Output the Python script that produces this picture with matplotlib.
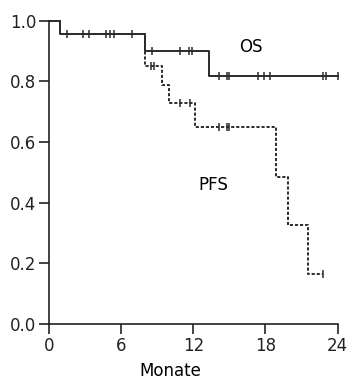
import matplotlib
matplotlib.use("Agg")
import matplotlib.pyplot as plt

# OS step curve (time in months, survival)
os_times = [0, 0.9, 8.0, 13.3, 24.0]
os_surv = [1.0, 0.955, 0.90, 0.818, 0.818]
os_cens_t = [1.5, 2.8, 3.3, 4.7, 5.1, 5.4, 6.9, 8.6, 10.9, 11.6, 11.9, 14.1, 14.8, 15.0, 17.4, 17.9, 18.4, 22.8, 23.0, 24.0]

# PFS step curve
pfs_times = [0, 0.9, 8.0, 9.4, 9.95, 12.1, 18.9, 19.9, 21.5, 22.75]
pfs_surv = [1.0, 0.955, 0.852, 0.788, 0.728, 0.65, 0.486, 0.326, 0.165, 0.165]
pfs_cens_t = [8.5, 8.7, 10.9, 11.7, 14.1, 14.8, 15.0, 22.75]

xticks = [0, 6, 12, 18, 24]
yticks = [0.0, 0.2, 0.4, 0.6, 0.8, 1.0]


def surv_at(times, surv, t):
    v = surv[0]
    for ti, si in zip(times, surv):
        if ti <= t:
            v = si
    return v


fig = plt.figure(figsize=(3.59, 3.79), dpi=100)
ax = fig.add_axes([0.1365, 0.145, 0.804, 0.800])

col = "#2b2b2b"
ax.step(os_times, os_surv, where="post", color=col, lw=1.4, clip_on=False)
ax.step(pfs_times, pfs_surv, where="post", color=col, lw=1.4, ls=(0, (1.6, 1.0)), clip_on=False)

ax.plot(os_cens_t, [surv_at(os_times, os_surv, t) for t in os_cens_t], ls="none",
        marker="|", ms=5.5, mew=1.1, color=col, clip_on=False)
ax.plot(pfs_cens_t, [surv_at(pfs_times, pfs_surv, t) for t in pfs_cens_t], ls="none",
        marker="|", ms=5.5, mew=1.1, color=col, clip_on=False)

ax.text(16.75, 0.915, "OS", fontsize=12, ha="center", va="center")
ax.text(13.7, 0.46, "PFS", fontsize=12, ha="center", va="center")

ax.set_xlim(0, 24)
ax.set_ylim(0, 1.0)
ax.set_xticks(xticks)
ax.set_xticklabels([str(t) for t in xticks])
ax.set_yticks(yticks)
ax.set_yticklabels([f"{t:.1f}" for t in yticks])
ax.tick_params(direction="out", length=7, width=1.2, labelsize=12, colors="#222222", pad=2)
for s in ["top", "right"]:
    ax.spines[s].set_visible(False)
for s in ["left", "bottom"]:
    ax.spines[s].set_linewidth(1.2)
    ax.spines[s].set_color("#222222")
ax.set_xlabel("Monate", fontsize=12, labelpad=3)
ax.xaxis.set_label_coords(0.42, -0.125)

fig.savefig("out.png", dpi=100)
